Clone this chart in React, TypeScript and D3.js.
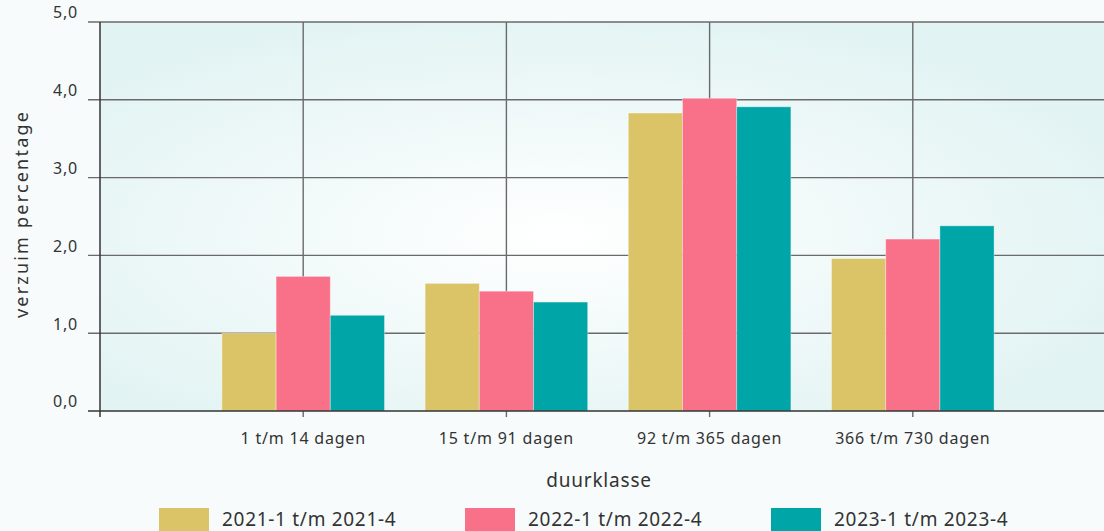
import { useEffect, useRef } from "react";
import * as d3 from "d3";

const categories = ["1 t/m 14 dagen", "15 t/m 91 dagen", "92 t/m 365 dagen", "366 t/m 730 dagen"];
const seriesNames = ["2021-1 t/m 2021-4", "2022-1 t/m 2022-4", "2023-1 t/m 2023-4"];
const values2021 = [1.0, 1.64, 3.83, 1.96];
const values2022 = [1.73, 1.54, 4.02, 2.21];
const values2023 = [1.23, 1.4, 3.91, 2.38];
const seriesColors = ["#dac467", "#f97189", "#00a5a7"];
const yTicks = [0, 1, 2, 3, 4, 5];

export default function App() {
  const ref = useRef<SVGSVGElement>(null);

  useEffect(() => {
    const width = 1104;
    const height = 531;
    const font = "'Noto Sans', sans-serif";
    const textColor = "#333";
    const allSeries = [values2021, values2022, values2023];

    const svg = d3.select(ref.current).attr("width", width).attr("height", height);
    svg.selectAll("*").remove();

    // page background
    svg.append("rect").attr("width", width).attr("height", height).attr("fill", "#f7fbfc");

    const defs = svg.append("defs");
    const grad = defs
      .append("radialGradient")
      .attr("id", "plotBg")
      .attr("cx", "0.45")
      .attr("cy", "0.55")
      .attr("r", "0.6");
    grad.append("stop").attr("offset", "0%").attr("stop-color", "#ffffff");
    grad.append("stop").attr("offset", "100%").attr("stop-color", "#e2f3f3");

    // x: slot 0 is empty, categories sit on 1..4, plot runs past the right edge
    const x = d3.scaleLinear().domain([0, 5]).range([100, 1116]);
    const y = d3.scaleLinear().domain([0, 5]).range([411, 22]);
    const slot = x(1) - x(0);
    const inner = d3
      .scaleBand<string>()
      .domain(seriesNames)
      .range([-slot * 0.4, slot * 0.4])
      .padding(0);

    svg
      .append("rect")
      .attr("x", x(0))
      .attr("y", y(5))
      .attr("width", x(5) - x(0))
      .attr("height", y(0) - y(5))
      .attr("fill", "url(#plotBg)");

    // horizontal grid + y ticks
    svg
      .append("g")
      .selectAll("line")
      .data(yTicks.filter((d) => d > 0))
      .join("line")
      .attr("x1", x(0) - 12)
      .attr("x2", x(5))
      .attr("y1", (d) => y(d))
      .attr("y2", (d) => y(d))
      .attr("stroke", "#6a6a6a")
      .attr("stroke-width", 1.4);

    // vertical grid
    svg
      .append("g")
      .selectAll("line")
      .data(d3.range(1, 5))
      .join("line")
      .attr("x1", (d) => x(d))
      .attr("x2", (d) => x(d))
      .attr("y1", y(5))
      .attr("y2", y(0) + 6)
      .attr("stroke", "#6a6a6a")
      .attr("stroke-width", 1.4);

    // bars
    categories.forEach((cat, ci) => {
      svg
        .append("g")
        .selectAll("rect")
        .data(seriesNames)
        .join("rect")
        .attr("x", (s) => x(ci + 1) + (inner(s) ?? 0))
        .attr("y", (s, si) => y(allSeries[si][ci]))
        .attr("width", inner.bandwidth())
        .attr("height", (s, si) => y(0) - y(allSeries[si][ci]))
        .attr("fill", (s, si) => seriesColors[si])
        .attr("stroke", "rgba(255,255,255,0.35)")
        .attr("stroke-width", 1);
    });

    // axes lines
    svg
      .append("line")
      .attr("x1", x(0))
      .attr("x2", x(0))
      .attr("y1", y(5))
      .attr("y2", y(0) + 6)
      .attr("stroke", "#333")
      .attr("stroke-width", 1.5);
    svg
      .append("line")
      .attr("x1", x(0) - 12)
      .attr("x2", x(5))
      .attr("y1", y(0))
      .attr("y2", y(0))
      .attr("stroke", "#333")
      .attr("stroke-width", 1.5);

    // y tick labels
    svg
      .append("g")
      .selectAll("text")
      .data(yTicks)
      .join("text")
      .attr("x", 78)
      .attr("y", (d) => y(d))
      .attr("dy", "-0.22em")
      .attr("text-anchor", "end")
      .attr("font-family", font)
      .attr("font-size", 16)
      .attr("letter-spacing", 0.8)
      .attr("fill", textColor)
      .text((d) => d.toFixed(1).replace(".", ","));

    // x tick labels
    svg
      .append("g")
      .selectAll("text")
      .data(categories)
      .join("text")
      .attr("x", (d, i) => x(i + 1))
      .attr("y", 444)
      .attr("text-anchor", "middle")
      .attr("font-family", font)
      .attr("font-size", 16)
      .attr("letter-spacing", 0.8)
      .attr("fill", textColor)
      .text((d) => d);

    // axis titles
    svg
      .append("text")
      .attr("x", 599)
      .attr("y", 487)
      .attr("text-anchor", "middle")
      .attr("font-family", font)
      .attr("font-size", 19)
      .attr("letter-spacing", 0.8)
      .attr("fill", textColor)
      .text("duurklasse");

    svg
      .append("text")
      .attr("transform", "translate(28,214) rotate(-90)")
      .attr("text-anchor", "middle")
      .attr("font-family", font)
      .attr("font-size", 18)
      .attr("letter-spacing", 2.2)
      .attr("fill", textColor)
      .text("verzuim percentage");

    // legend
    const legendX = [159, 465, 771];
    const legend = svg
      .append("g")
      .selectAll("g")
      .data(seriesNames)
      .join("g")
      .attr("transform", (d, i) => `translate(${legendX[i]},508)`);
    legend
      .append("rect")
      .attr("width", 50)
      .attr("height", 26)
      .attr("fill", (d, i) => seriesColors[i]);
    legend
      .append("text")
      .attr("x", 63)
      .attr("y", 18)
      .attr("font-family", font)
      .attr("font-size", 19)
      .attr("letter-spacing", 0.7)
      .attr("fill", textColor)
      .text((d) => d);
  }, []);

  return <svg ref={ref} style={{ position: "fixed", left: 0, top: 0 }} />;
}
